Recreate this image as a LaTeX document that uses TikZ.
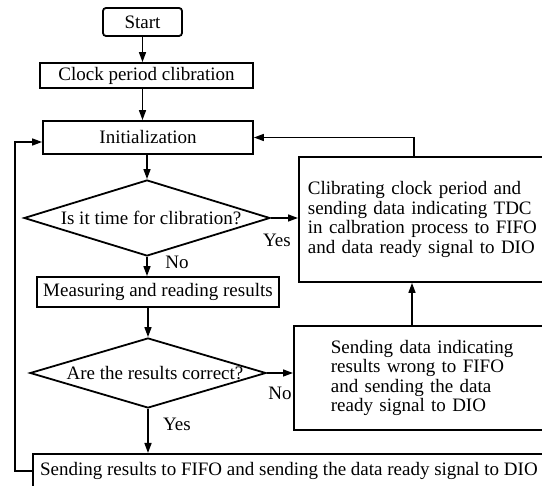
\documentclass[tikz,border=0pt]{standalone}
\usepackage{fontspec}
\setmainfont{Liberation Serif}
\usetikzlibrary{shapes.geometric,arrows.meta}
\begin{document}
\begin{tikzpicture}[x=1pt,y=-1pt,
  every node/.style={font=\fontsize{19}{19.5}\selectfont},
  box/.style={draw,line width=1.8pt,rectangle,inner sep=0pt},
  dia/.style={draw,line width=1.8pt,diamond,inner sep=0pt},
  arr/.style={line width=1.5pt,-{Triangle[length=10pt,width=7pt]}},
  lbl/.style={inner sep=0pt}]
\useasboundingbox (0,0) rectangle (542,486);
\clip (0,0) rectangle (542,486);
\node[box,rounded corners=3pt,minimum width=79pt,minimum height=28pt] (start) at (142.5,22) {Start};
\node[box,minimum width=213pt,minimum height=25pt] (clock) at (146.5,75.5) {Clock period clibration};
\node[box,minimum width=210pt,minimum height=33pt] (init) at (148,137.5) {Initialization};
\node[dia,minimum width=246pt,minimum height=76pt] (d1) at (147,218) {\makebox[0pt]{\hspace{8pt}Is it time for clibration?}};
\node[box,minimum width=242pt,minimum height=30pt] (meas) at (158,292) {Measuring and reading results};
\node[dia,minimum width=236pt,minimum height=70pt] (d2) at (148,373) {\makebox[0pt]{\hspace{14pt}Are the results correct?}};
\node[box,anchor=west,minimum height=125pt,inner xsep=9pt,text width=231pt,align=left] (cal) at (298,219.5)
  {Clibrating clock period and\\ sending data indicating TDC\\ in calbration process to FIFO\\ and data ready signal to DIO};
\node[box,anchor=west,minimum height=104pt,inner xsep=37pt,text width=200pt,align=left] (wrong) at (293,378)
  {Sending data indicating\\ results wrong to FIFO\\ and sending the data\\ ready signal to DIO};
\node[box,anchor=north west,minimum width=512pt,minimum height=34pt] (res) at (32,453)
  {Sending results to FIFO and sending the data ready signal to DIO};
\node[lbl] (yes1) at (277,240) {Yes};
\node[lbl] (no1) at (177,262) {No};
\node[lbl] (no2) at (280,393) {No};
\node[lbl] (yes2) at (177,424) {Yes};
\coordinate (c1) at (414,0);
\coordinate (c2) at (412,0);
\draw[arr] (start.south) -- (start.south |- clock.north);
\draw[arr] (clock.south -| start.south) -- (init.north -| start.south);
\draw[arr] (init.south -| d1.north) -- (d1.north);
\draw[arr] (d1.south) -- (d1.south |- meas.north);
\draw[arr] (meas.south -| d2.north) -- (d2.north);
\draw[arr] (d2.south) -- (d2.south |- res.north);
\draw[arr] (d1.east) -- (d1.east -| cal.west);
\draw[arr] (d2.east) -- (d2.east -| wrong.west);
\draw[arr] (cal.north -| c1) |- (init.east);
\draw[arr] (wrong.north -| c2) -- (cal.south -| c2);
\draw[arr] (res.west) -- ++(-17,0) |- ([yshift=-4.5pt]init.west);
\end{tikzpicture}
\end{document}
